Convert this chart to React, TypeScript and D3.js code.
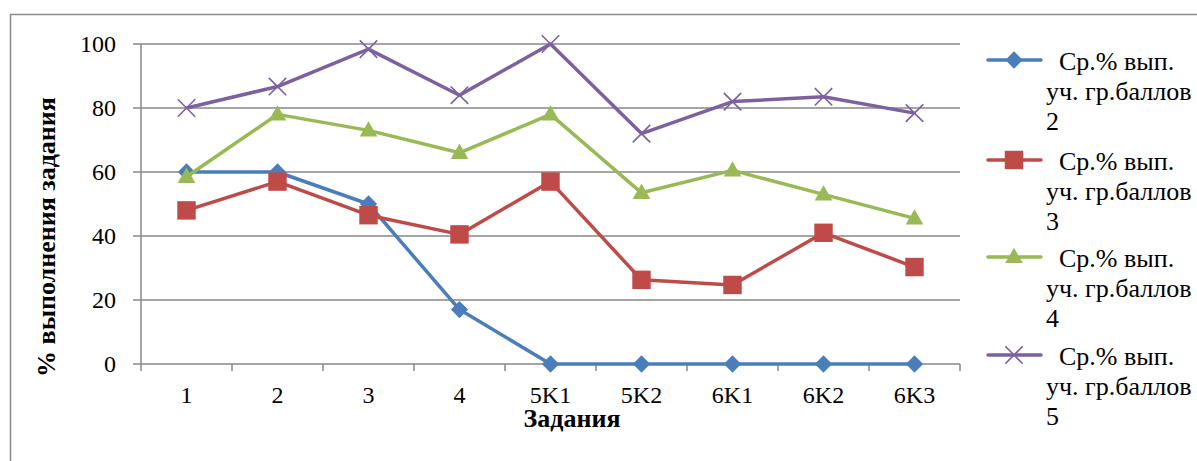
import React from "react";
import * as d3 from "d3";

const categories = ["1", "2", "3", "4", "5K1", "5K2", "6K1", "6K2", "6K3"];
const yTicks = [0, 20, 40, 60, 80, 100];
const seriesLabels = ["2", "3", "4", "5"];
const legendLine1 = "Ср.% вып.";
const legendLine2 = "уч. гр.баллов";
const s2 = [60, 60, 50, 17, 0, 0, 0, 0, 0];
const s3 = [48, 57, 46.5, 40.5, 57, 26.3, 24.7, 41, 30.3];
const s4 = [58.5, 78, 73, 66, 78, 53.5, 60.5, 53, 45.5];
const s5 = [80, 86.7, 98.4, 84, 100, 72, 82, 83.5, 78.4];

const colors = ["#4a7ebb", "#be4b48", "#98b954", "#7d60a0"];
const markers = ["diamond", "square", "triangle", "times"];
const seriesValues = [s2, s3, s4, s5];

const W = 1197;
const H = 461;
const FONT = "'Liberation Serif', 'Times New Roman', serif";
const txt = { fontFamily: FONT };

function Marker({ type, x, y, color }: { type: string; x: number; y: number; color: string }) {
  if (type === "diamond") {
    const p = d3.symbol().type(d3.symbolDiamond2).size(190)();
    return <path d={p || ""} transform={`translate(${x},${y})`} fill={color} />;
  }
  if (type === "square") {
    const p = d3.symbol().type(d3.symbolSquare).size(340)();
    return <path d={p || ""} transform={`translate(${x},${y})`} fill={color} />;
  }
  if (type === "triangle") {
    const p = d3.symbol().type(d3.symbolTriangle).size(135)();
    return <path d={p || ""} transform={`translate(${x},${y + 1})`} fill={color} />;
  }
  const p = d3.symbol().type(d3.symbolTimes).size(200)();
  return <path d={p || ""} transform={`translate(${x},${y})`} fill="none" stroke={color} strokeWidth={1.6} />;
}

export default function App() {
  const x = d3.scaleBand<string>().domain(categories).range([141, 960]).padding(0);
  const y = d3.scaleLinear().domain([0, 100]).range([364, 44]);
  const cx = (i: number) => (x(categories[i]) as number) + x.bandwidth() / 2;
  const line = d3
    .line<number>()
    .x((_, i) => cx(i))
    .y((d) => y(d));

  const grid = "#878787";
  const legendY = [60, 160, 257, 355];

  return (
    <svg
      width={W}
      height={H}
      style={{ position: "absolute", left: 0, top: 0, background: "#fff" }}
    >
      <rect x={0} y={0} width={W} height={H} fill="#fff" />
      <rect x={10.5} y={14.5} width={W + 20} height={H + 20} fill="none" stroke="#8c8c8c" strokeWidth={1.5} />

      {yTicks.map((t) => (
        <g key={t}>
          <line x1={133} x2={960} y1={y(t)} y2={y(t)} stroke={grid} strokeWidth={1.5} />
          <text x={116} y={y(t) + 8} textAnchor="end" fontSize={24} fill="#000" style={txt}>
            {t}
          </text>
        </g>
      ))}
      <line x1={141} x2={141} y1={44} y2={371} stroke={grid} strokeWidth={1.5} />
      {categories.map((c) => (
        <line
          key={"t" + c}
          x1={(x(c) as number) + x.bandwidth()}
          x2={(x(c) as number) + x.bandwidth()}
          y1={364}
          y2={371}
          stroke={grid}
          strokeWidth={1.5}
        />
      ))}
      {categories.map((c, i) => (
        <text key={"l" + c} x={cx(i)} y={403} textAnchor="middle" fontSize={24} fill="#000" style={txt}>
          {c}
        </text>
      ))}

      <text x={572} y={427} textAnchor="middle" fontSize={26} fontWeight="bold" fill="#000" style={txt}>
        Задания
      </text>
      <text
        transform={`translate(55,237) rotate(-90)`}
        textAnchor="middle"
        fontSize={26}
        fontWeight="bold"
        fill="#000"
        style={txt}
      >
        % выполнения задания
      </text>

      {seriesValues.map((vals, si) => (
        <g key={"s" + si}>
          <path d={line(vals) || ""} fill="none" stroke={colors[si]} strokeWidth={3.5} strokeLinejoin="round" />
          {vals.map((v, i) => (
            <Marker key={i} type={markers[si]} x={cx(i)} y={y(v)} color={colors[si]} />
          ))}
        </g>
      ))}

      {seriesLabels.map((lab, si) => {
        const ly = legendY[si];
        return (
          <g key={"lg" + si}>
            <line x1={988} x2={1041} y1={ly} y2={ly} stroke={colors[si]} strokeWidth={3.5} strokeLinecap="round" />
            <Marker type={markers[si]} x={1014} y={ly} color={colors[si]} />
            <text x={1059} y={ly + 10} fontSize={26} fill="#000" style={txt}>
              {legendLine1}
            </text>
            <text x={1046} y={ly + 40} fontSize={26} fill="#000" style={txt}>
              {legendLine2}
            </text>
            <text x={1046} y={ly + 70} fontSize={26} fill="#000" style={txt}>
              {lab}
            </text>
          </g>
        );
      })}
    </svg>
  );
}
